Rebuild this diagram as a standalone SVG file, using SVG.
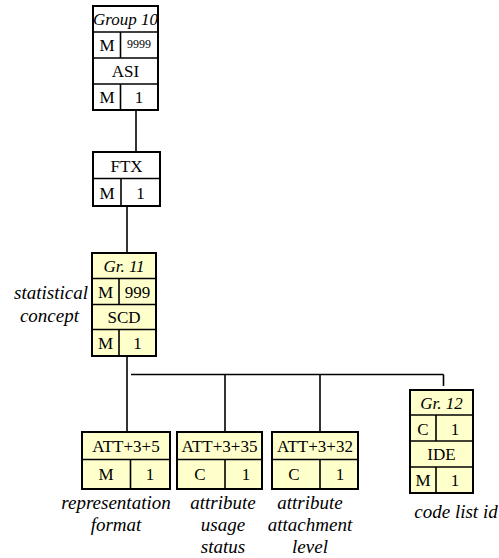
<svg xmlns="http://www.w3.org/2000/svg" width="499" height="558" viewBox="0 0 499 558" font-family="'Liberation Serif', 'Times New Roman', 'DejaVu Serif', serif">
<style>
rect.w{fill:#ffffff;stroke:#000;stroke-width:2}
rect.y{fill:#ffffcc;stroke:#000;stroke-width:2}
line{stroke:#000;stroke-width:1.6}
text{font-family:'Liberation Serif','Times New Roman','DejaVu Serif',serif;font-size:17px;fill:#000;text-anchor:middle}
.i{font-style:italic}
.lab{font-style:italic;font-size:19px}
.sm{font-size:12px}
</style>
<g id="connectors">
<line x1="136" y1="110" x2="136" y2="152"/>
<line x1="127" y1="206" x2="127" y2="253"/>
<line x1="127" y1="356" x2="127" y2="432"/>
<line x1="131" y1="374.5" x2="443.5" y2="374.5"/>
<line x1="225" y1="374.5" x2="225" y2="432"/>
<line x1="320" y1="374.5" x2="320" y2="432"/>
<line x1="443.5" y1="374.5" x2="443.5" y2="386"/>
</g>
<g id="group10">
<rect class="w" x="93" y="6" width="65" height="104"/>
<line x1="93" y1="32" x2="158" y2="32"/>
<line x1="93" y1="58" x2="158" y2="58"/>
<line x1="93" y1="84" x2="158" y2="84"/>
<line x1="120.5" y1="32" x2="120.5" y2="58"/>
<line x1="120.5" y1="84" x2="120.5" y2="110"/>
<text class="i" x="125.5" y="25">Group 10</text>
<text x="107" y="51">M</text>
<text class="sm" x="139" y="48">9999</text>
<text x="125.5" y="77">ASI</text>
<text x="107" y="103">M</text>
<text x="139" y="103">1</text>
</g>
<g id="ftx">
<rect class="w" x="93" y="152" width="67" height="54"/>
<line x1="93" y1="178.5" x2="160" y2="178.5"/>
<line x1="121" y1="178.5" x2="121" y2="206"/>
<text x="126.5" y="172">FTX</text>
<text x="107" y="199">M</text>
<text x="140.5" y="199">1</text>
</g>
<g id="group11">
<rect class="y" x="92" y="253" width="64" height="103"/>
<line x1="92" y1="278.5" x2="156" y2="278.5"/>
<line x1="92" y1="304.5" x2="156" y2="304.5"/>
<line x1="92" y1="329.5" x2="156" y2="329.5"/>
<line x1="119" y1="278.5" x2="119" y2="304.5"/>
<line x1="119" y1="329.5" x2="119" y2="356"/>
<text class="i" x="124" y="272">Gr. 11</text>
<text x="105.5" y="298">M</text>
<text x="137.5" y="298">999</text>
<text x="124" y="323">SCD</text>
<text x="105.5" y="349">M</text>
<text x="137.5" y="349">1</text>
<text class="lab" x="88" y="299" style="text-anchor:end">statistical</text>
<text class="lab" x="79" y="322" style="text-anchor:end">concept</text>
</g>
<g id="att5">
<rect class="y" x="82" y="432" width="88" height="57"/>
<line x1="82" y1="459.5" x2="170" y2="459.5"/>
<line x1="130.5" y1="459.5" x2="130.5" y2="489"/>
<text x="126" y="452">ATT+3+5</text>
<text x="106" y="480">M</text>
<text x="150" y="480">1</text>
<text class="lab" x="116" y="509">representation</text>
<text class="lab" x="116" y="531">format</text>
</g>
<g id="att35">
<rect class="y" x="177" y="432" width="85" height="57"/>
<line x1="177" y1="459.5" x2="262" y2="459.5"/>
<line x1="225" y1="459.5" x2="225" y2="489"/>
<text x="219.5" y="452">ATT+3+35</text>
<text x="200" y="480">C</text>
<text x="246" y="480">1</text>
<text class="lab" x="223" y="509">attribute</text>
<text class="lab" x="223" y="531">usage</text>
<text class="lab" x="223" y="553">status</text>
</g>
<g id="att32">
<rect class="y" x="272" y="432" width="86" height="57"/>
<line x1="272" y1="459.5" x2="358" y2="459.5"/>
<line x1="320" y1="459.5" x2="320" y2="489"/>
<text x="315" y="452">ATT+3+32</text>
<text x="294" y="480">C</text>
<text x="340" y="480">1</text>
<text class="lab" x="310" y="509">attribute</text>
<text class="lab" x="310" y="531">attachment</text>
<text class="lab" x="310" y="553">level</text>
</g>
<g id="group12">
<rect class="y" x="410" y="390" width="63" height="103"/>
<line x1="410" y1="415" x2="473" y2="415"/>
<line x1="410" y1="441" x2="473" y2="441"/>
<line x1="410" y1="467" x2="473" y2="467"/>
<line x1="436" y1="415" x2="436" y2="441"/>
<line x1="436" y1="467" x2="436" y2="493"/>
<text class="i" x="441.5" y="409">Gr. 12</text>
<text x="423" y="435">C</text>
<text x="455" y="435">1</text>
<text x="441.5" y="460">IDE</text>
<text x="423" y="486">M</text>
<text x="455" y="486">1</text>
<text class="lab" x="456" y="518">code list id</text>
</g>
</svg>
